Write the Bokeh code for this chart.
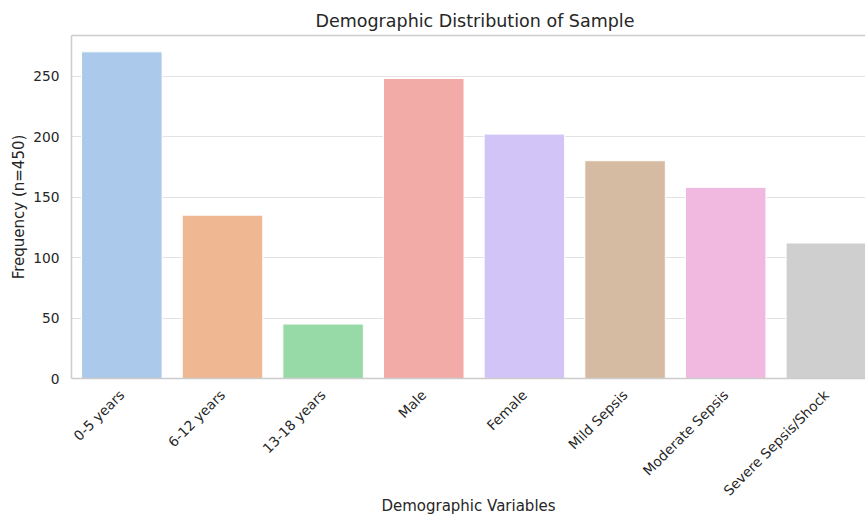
import math
from bokeh.plotting import figure
from bokeh.models import FixedTicker, LinearAxis, Range1d, ColumnDataSource
from bokeh.embed import file_html
from bokeh.resources import INLINE

categories = ["0-5 years", "6-12 years", "13-18 years", "Male", "Female",
              "Mild Sepsis", "Moderate Sepsis", "Severe Sepsis/Shock"]
frequencies = [270, 135, 45, 248, 202, 180, 158, 112]
colors = ["#abc9ea", "#efb792", "#98daa7", "#f3aba8", "#d3c4f7", "#d6bba3", "#f1b9e0", "#cfcfcf"]
y_ticks = [0, 50, 100, 150, 200, 250]

FONT = "DejaVu Sans"
TEXT = "#262626"
SPINE = "#cccccc"
GRID = "#e2e2e2"

xpos = list(range(len(categories)))
src = ColumnDataSource(dict(x=xpos, top=frequencies, color=colors))

p = figure(width=865, height=518, output_backend="svg", toolbar_location=None,
           x_range=Range1d(-0.5, 7.389), y_range=Range1d(0, max(frequencies) * 1.05),
           min_border_left=71, min_border_right=0, min_border_top=35, min_border_bottom=140,
           background_fill_color="white", border_fill_color="white")
p.outline_line_color = None

p.vbar(x="x", top="top", width=0.8, fill_color="color", line_color="white",
       line_width=1, source=src)

# x axis (the default bottom axis)
xa = p.below[0]
xa.ticker = FixedTicker(ticks=xpos)
xa.major_label_overrides = {i: c for i, c in enumerate(categories)}
xa.major_label_orientation = math.pi / 4
xa.major_label_text_font = FONT
xa.major_label_text_font_size = "13.75px"
xa.major_label_text_color = TEXT
xa.major_tick_out = 0
xa.major_tick_in = 0
xa.minor_tick_out = 0
xa.minor_tick_in = 0
xa.major_label_standoff = 14
xa.axis_line_color = SPINE
xa.axis_line_width = 1.5
xa.axis_label = "Demographic Variables"
xa.axis_label_text_font = FONT
xa.axis_label_text_font_size = "15px"
xa.axis_label_text_font_style = "normal"
xa.axis_label_text_color = TEXT
xa.axis_label_standoff = -10

# y axis
ya = p.left[0]
ya.ticker = FixedTicker(ticks=y_ticks)
ya.axis_label = "Frequency (n=450)"
ya.axis_label_text_font = FONT
ya.axis_label_text_font_size = "15px"
ya.axis_label_text_font_style = "normal"
ya.axis_label_text_color = TEXT
ya.axis_label_standoff = 2
ya.major_label_text_font = FONT
ya.major_label_text_font_size = "13.75px"
ya.major_label_text_color = TEXT
ya.major_tick_out = 0
ya.major_tick_in = 0
ya.minor_tick_out = 0
ya.minor_tick_in = 0
ya.major_label_standoff = 12
ya.axis_line_color = SPINE
ya.axis_line_width = 1.5

# title
p.title.text = "Demographic Distribution of Sample"
p.title.text_font = FONT
p.title.text_font_size = "17.5px"
p.title.text_font_style = "normal"
p.title.text_color = TEXT
p.title.align = "left"
p.title.offset = 244
p.title.standoff = 9

# top spine
top_axis = LinearAxis(ticker=FixedTicker(ticks=[]), major_label_text_font_size="0px",
                      major_tick_out=0, major_tick_in=0, minor_tick_out=0, minor_tick_in=0,
                      major_label_standoff=0, axis_line_color=SPINE, axis_line_width=1.5)
p.add_layout(top_axis, "above")

p.xgrid.visible = False
p.ygrid.ticker = FixedTicker(ticks=y_ticks)
p.ygrid.grid_line_color = GRID
p.ygrid.grid_line_width = 1

open("out.html", "w").write(file_html(p, INLINE))
